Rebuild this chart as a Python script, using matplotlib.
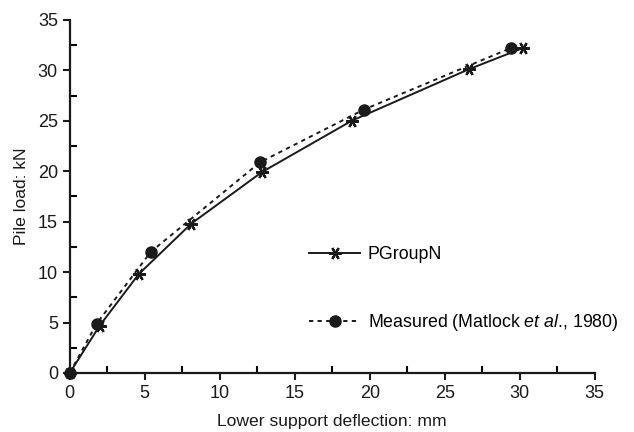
import matplotlib
matplotlib.use('Agg')
import matplotlib.pyplot as plt
from matplotlib.ticker import MultipleLocator

plt.rcParams['font.family'] = 'Liberation Sans'
plt.rcParams['mathtext.fontset'] = 'custom'
plt.rcParams['mathtext.rm'] = 'Liberation Sans'
plt.rcParams['mathtext.it'] = 'Liberation Sans:italic'

# PGroupN prediction
pg_defl = [0, 2.0, 4.6, 8.1, 12.8, 18.8, 26.6, 30.2]
pg_load = [0, 4.7, 9.8, 14.8, 19.9, 25.0, 30.1, 32.2]

# measured (Matlock et al., 1980)
ms_defl = [0, 1.8, 5.4, 12.7, 19.6, 29.4]
ms_load = [0, 4.9, 12.0, 20.9, 26.1, 32.2]

fig = plt.figure(figsize=(6.34, 4.32), dpi=100)
ax = fig.add_axes([0.110, 0.1366, 0.828, 0.8174])

ax.plot(pg_defl, pg_load, color='#1a1a1a', lw=1.4, marker=(6, 2, 90),
        ms=9, mew=1.6, label='PGroupN', clip_on=False)
ax.plot(ms_defl, ms_load, color='#1a1a1a', lw=1.4, ls=(0, (2.2, 2.2)),
        marker='o', ms=8, label=r'Measured (Matlock $\mathit{et\ al}$., 1980)', clip_on=False)

ax.set_xlim(0, 35)
ax.set_ylim(0, 35)
ax.xaxis.set_major_locator(MultipleLocator(5))
ax.yaxis.set_major_locator(MultipleLocator(5))
ax.xaxis.set_minor_locator(MultipleLocator(2.5))
ax.yaxis.set_minor_locator(MultipleLocator(2.5))
ax.tick_params(which='major', direction='out', length=5, width=1.5, labelsize=13, colors='#1a1a1a')
ax.tick_params(which='minor', direction='in', length=5, width=1.5)
for s in ['top', 'right']:
    ax.spines[s].set_visible(False)
for s in ['left', 'bottom']:
    ax.spines[s].set_linewidth(1.6)
    ax.spines[s].set_color('#1a1a1a')

ax.set_xlabel('Lower support deflection: mm', fontsize=12.6, labelpad=9, color='#1a1a1a')
ax.set_ylabel('Pile load: kN', fontsize=12.6, labelpad=6, color='#1a1a1a')

ax.legend(loc='upper left', bbox_to_anchor=(0.425, 0.404), frameon=False,
          fontsize=12.8, handlelength=2.9, handletextpad=0.4, labelspacing=2.75)

fig.savefig('out.png', dpi=100)
